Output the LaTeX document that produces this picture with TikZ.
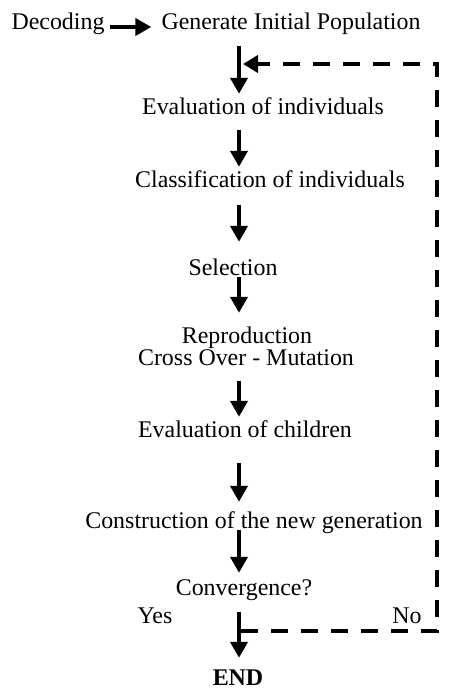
\documentclass[tikz,border=0pt]{standalone}
\usepackage{fontspec}
\setmainfont{Liberation Serif}
\usetikzlibrary{arrows.meta}
\begin{document}
\begin{tikzpicture}[x=1bp,y=-1bp,
  txt/.style={inner sep=0pt,anchor=base,text height=17bp,text depth=5bp,font=\fontsize{24}{28}\selectfont},
  flow/.style={line width=4.2bp,-{Triangle[length=16bp,width=17bp]}},
  back/.style={line width=4.2bp,dash pattern=on 17bp off 13bp}]
\useasboundingbox (0,0) rectangle (451,689);
\node[txt] (dec) at (58,30) {Decoding};
\node[txt] (gen) at (291,30) {Generate Initial Population};
\node[txt] (evi) at (263,115) {Evaluation of individuals};
\node[txt] (cls) at (270,187) {Classification of individuals};
\node[txt] (sel) at (233,275) {Selection};
\node[txt] (rep) at (247,343) {Reproduction};
\node[txt] (mut) at (246,365) {Cross Over - Mutation};
\node[txt] (evc) at (245,437) {Evaluation of children};
\node[txt] (con) at (254,528) {Construction of the new generation};
\node[txt] (cvg) at (244,595) {Convergence?};
\node[txt] (yes) at (155,623) {Yes};
\node[txt] (no) at (407,623) {No};
\node[txt,text depth=1bp,font=\fontsize{24}{28}\selectfont\bfseries] (end) at (238,685) {END};
\coordinate (ax) at (239,0);
\coordinate (rx) at (437,0);
\draw[flow,shorten <=5bp,shorten >=10bp] ([yshift=3bp]dec.base east) -- ([yshift=3bp]gen.base west);
\draw[flow,shorten <=11bp,shorten >=4bp] (gen.south -| ax) -- (evi.north -| ax);
\draw[flow,shorten <=10bp,shorten >=3bp] (evi.south -| ax) -- (cls.north -| ax);
\draw[flow,shorten <=13bp,shorten >=16bp] (cls.south -| ax) -- (sel.north -| ax);
\draw[flow,shorten <=-3bp,shorten >=13bp] (sel.south -| ax) -- (rep.north -| ax);
\draw[flow,shorten <=11bp,shorten >=3bp] (mut.south -| ax) -- (evc.north -| ax);
\draw[flow,shorten <=21bp,shorten >=9bp] (evc.south -| ax) -- (con.north -| ax);
\draw[flow,shorten <=-3bp,shorten >=5bp] (con.south -| ax) -- (cvg.north -| ax);
\draw[flow,shorten <=12bp,shorten >=10bp] (cvg.south -| ax) -- (end.north -| ax);
\coordinate (lb) at (241,631);
\coordinate (lt) at (243,64);
\draw[back] (lb) -- (lb -| rx) -- (lt -| rx) -- ([xshift=20bp]lt);
\draw[line width=4.2bp,-{Triangle[length=15bp,width=17bp]}] ([xshift=26bp]lt) -- (lt);
\end{tikzpicture}
\end{document}
